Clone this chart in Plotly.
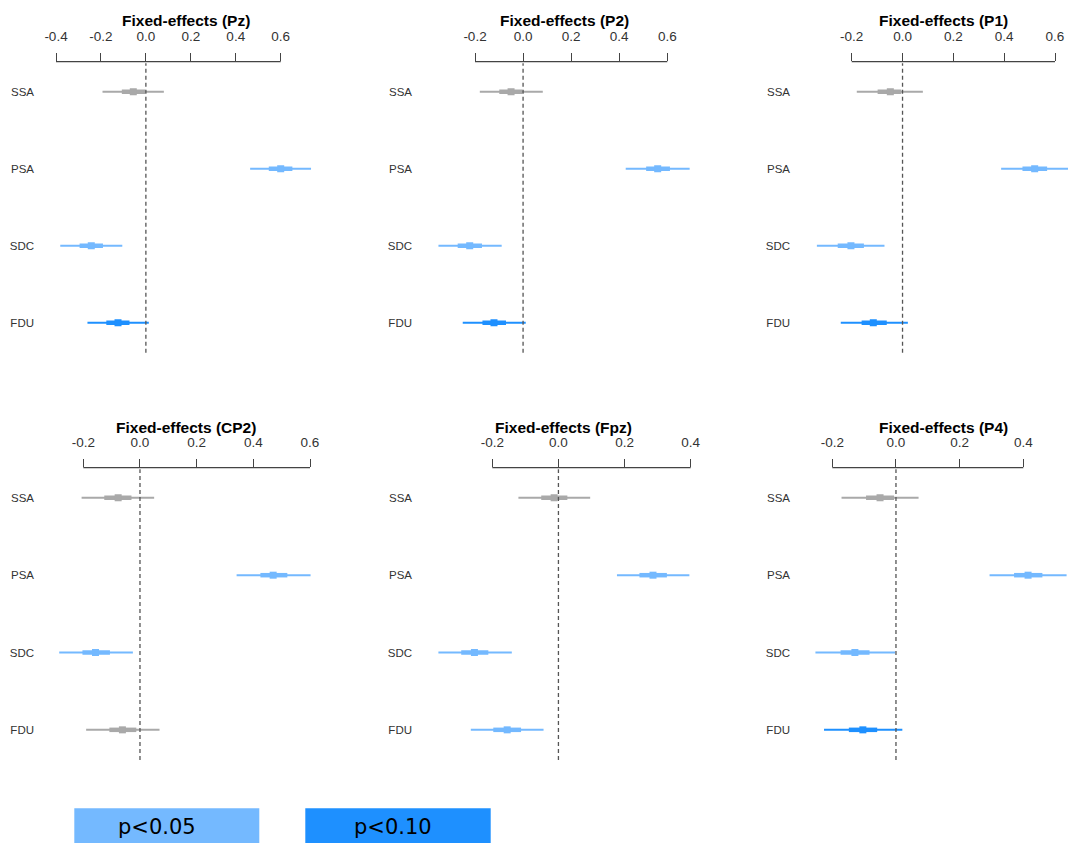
import plotly.graph_objects as go

W, H = 1068, 843

categories = ["SSA", "PSA", "SDC", "FDU"]
panels = ["Pz", "P2", "P1", "CP2", "Fpz", "P4"]

est = {
    "Pz":  [-0.056, 0.600, -0.243, -0.124],
    "P2":  [-0.050, 0.560, -0.222, -0.121],
    "P1":  [-0.048, 0.520, -0.203, -0.115],
    "CP2": [-0.077, 0.470, -0.157, -0.062],
    "Fpz": [-0.013, 0.286, -0.254, -0.155],
    "P4":  [-0.050, 0.415, -0.129, -0.104],
}
inner_lo = {
    "Pz":  [-0.107, 0.547, -0.295, -0.176],
    "P2":  [-0.099, 0.512, -0.272, -0.169],
    "P1":  [-0.098, 0.472, -0.255, -0.161],
    "CP2": [-0.126, 0.425, -0.203, -0.108],
    "Fpz": [-0.052, 0.245, -0.294, -0.197],
    "P4":  [-0.094, 0.371, -0.174, -0.148],
}
inner_hi = {
    "Pz":  [-0.003, 0.652, -0.191, -0.073],
    "P2":  [-0.003, 0.611, -0.171, -0.071],
    "P1":  [-0.005, 0.569, -0.152, -0.062],
    "CP2": [-0.030, 0.520, -0.106, -0.013],
    "Fpz": [0.027, 0.328, -0.212, -0.113],
    "P4":  [-0.006, 0.460, -0.083, -0.059],
}
outer_lo = {
    "Pz":  [-0.193, 0.464, -0.381, -0.260],
    "P2":  [-0.180, 0.427, -0.352, -0.251],
    "P1":  [-0.180, 0.388, -0.337, -0.243],
    "CP2": [-0.206, 0.341, -0.285, -0.190],
    "Fpz": [-0.121, 0.177, -0.363, -0.265],
    "P4":  [-0.171, 0.294, -0.253, -0.226],
}
outer_hi = {
    "Pz":  [0.080, 0.735, -0.105, 0.013],
    "P2":  [0.082, 0.693, -0.089, 0.011],
    "P1":  [0.080, 0.652, -0.071, 0.021],
    "CP2": [0.050, 0.602, -0.025, 0.069],
    "Fpz": [0.096, 0.396, -0.141, -0.045],
    "P4":  [0.071, 0.536, -0.003, 0.020],
}
significance = {
    "Pz":  ["ns", "p05", "p05", "p10"],
    "P2":  ["ns", "p05", "p05", "p10"],
    "P1":  ["ns", "p05", "p05", "p10"],
    "CP2": ["ns", "p05", "p05", "ns"],
    "Fpz": ["ns", "p05", "p05", "p05"],
    "P4":  ["ns", "p05", "p05", "p10"],
}
tick_values = {
    "Pz":  [-0.4, -0.2, 0.0, 0.2, 0.4, 0.6],
    "P2":  [-0.2, 0.0, 0.2, 0.4, 0.6],
    "P1":  [-0.2, 0.0, 0.2, 0.4, 0.6],
    "CP2": [-0.2, 0.0, 0.2, 0.4, 0.6],
    "Fpz": [-0.2, 0.0, 0.2, 0.4],
    "P4":  [-0.2, 0.0, 0.2, 0.4],
}
legend_labels = ["p<0.05", "p<0.10"]

colors = {"ns": "#A9A9A9", "p05": "#74B9FF", "p10": "#1E90FF"}
legend_colors = [colors["p05"], colors["p10"]]

# ---- layout geometry (pixels) ----
tick_px = {
    "Pz": (56.0, 280.7), "P2": (475.0, 667.3), "P1": (851.7, 1055.0),
    "CP2": (83.3, 310.0), "Fpz": (492.3, 690.7), "P4": (832.3, 1023.3),
}
dom_px = {
    "Pz": (40, 352), "P2": (418, 708), "P1": (796, 1068),
    "CP2": (40, 352), "Fpz": (418, 708), "P4": (796, 1068),
}
label_px = {"Pz": 34, "P2": 412, "P1": 790, "CP2": 34, "Fpz": 412, "P4": 790}
title_px = {"Pz": 185.5, "P2": 564.3, "P1": 943.1, "CP2": 185.8, "Fpz": 563.7, "P4": 943.2}
row_top = {"Pz": 0, "P2": 0, "P1": 0, "CP2": 1, "Fpz": 1, "P4": 1}
ydom_px = [(61.7, 352.7), (467.7, 760.0)]
title_y = [20.5, 427.3]


def fx(px):
    return px / W


def fy(py):
    return 1 - py / H


fig = go.Figure()
layout = dict(
    width=W, height=H, margin=dict(l=0, r=0, t=0, b=0),
    plot_bgcolor="white", paper_bgcolor="white", showlegend=False,
)
shapes = []
annotations = []

nrow = len(categories)
ypos = {c: nrow - 1 - i for i, c in enumerate(categories)}

for k, p in enumerate(panels, start=1):
    xa = "xaxis" if k == 1 else f"xaxis{k}"
    ya = "yaxis" if k == 1 else f"yaxis{k}"
    xr = "x" if k == 1 else f"x{k}"
    yr = "y" if k == 1 else f"y{k}"
    ticks = tick_values[p]
    p0, p1 = tick_px[p]
    scale = (p1 - p0) / (ticks[-1] - ticks[0])
    d0, d1 = dom_px[p]
    rng = [ticks[0] + (d0 - p0) / scale, ticks[0] + (d1 - p0) / scale]
    yt, yb = ydom_px[row_top[p]]

    layout[xa] = dict(
        domain=[fx(d0), fx(d1)], range=rng, anchor=yr, side="top",
        tickvals=ticks, ticktext=[f"{t:.1f}" for t in ticks],
        ticks="outside", ticklen=8, tickwidth=1.3, tickcolor="#444",
        ticklabelstandoff=6,
        showline=False, showgrid=False, zeroline=False,
        tickfont=dict(family="Liberation Sans, Arial", size=13.5, color="#333"),
        fixedrange=True,
    )
    layout[ya] = dict(
        domain=[fy(yb), fy(yt)], range=[-0.39, nrow - 1 + 0.39],
        anchor="free", position=fx(label_px[p]),
        tickvals=[ypos[c] for c in categories], ticktext=categories,
        ticks="", showline=False, showgrid=False, zeroline=False,
        tickfont=dict(family="Liberation Sans, Arial", size=11.5, color="#333"),
        fixedrange=True,
    )

    shapes.append(dict(type="line", xref=xr, yref=f"{yr} domain",
                       x0=ticks[0], x1=ticks[-1], y0=1, y1=1,
                       line=dict(color="#444", width=1.3)))
    shapes.append(dict(type="line", xref=xr, yref=f"{yr} domain",
                       x0=0, x1=0, y0=0, y1=0.995,
                       line=dict(color="#555", width=1.3, dash="4px,3px")))

    for i, c in enumerate(categories):
        col = colors[significance[p][i]]
        y = ypos[c]
        fig.add_trace(go.Scatter(
            x=[outer_lo[p][i], outer_hi[p][i]], y=[y, y], mode="lines",
            line=dict(color=col, width=2), xaxis=xr, yaxis=yr, hoverinfo="skip"))
        fig.add_trace(go.Scatter(
            x=[inner_lo[p][i], inner_hi[p][i]], y=[y, y], mode="lines",
            line=dict(color=col, width=4.5), xaxis=xr, yaxis=yr, hoverinfo="skip"))
        fig.add_trace(go.Scatter(
            x=[est[p][i]], y=[y], mode="markers",
            marker=dict(symbol="square", size=7, color=col, line=dict(width=0)),
            xaxis=xr, yaxis=yr, name=f"{p} {c}"))

    annotations.append(dict(
        text=f"<b>Fixed-effects ({p})</b>", x=fx(title_px[p]), y=fy(title_y[row_top[p]]),
        xref="paper", yref="paper", xanchor="center", yanchor="middle", showarrow=False,
        font=dict(family="Liberation Sans, Arial", size=15.5, color="black")))

# legend boxes
box_px = [(74.3, 259.3), (305.3, 490.7)]
text_px = [157.0, 392.5]
for (b0, b1), tx, lab, col in zip(box_px, text_px, legend_labels, legend_colors):
    shapes.append(dict(type="rect", xref="paper", yref="paper",
                       x0=fx(b0), x1=fx(b1), y0=0, y1=fy(808.3),
                       fillcolor=col, line=dict(color=col, width=0)))
    annotations.append(dict(
        text=lab, x=fx(tx), y=fy(827), xref="paper", yref="paper",
        xanchor="center", yanchor="middle", showarrow=False,
        font=dict(family="DejaVu Sans", size=21, color="black")))

layout["shapes"] = shapes
layout["annotations"] = annotations
fig.update_layout(**layout)
fig.write_html("out.html")
